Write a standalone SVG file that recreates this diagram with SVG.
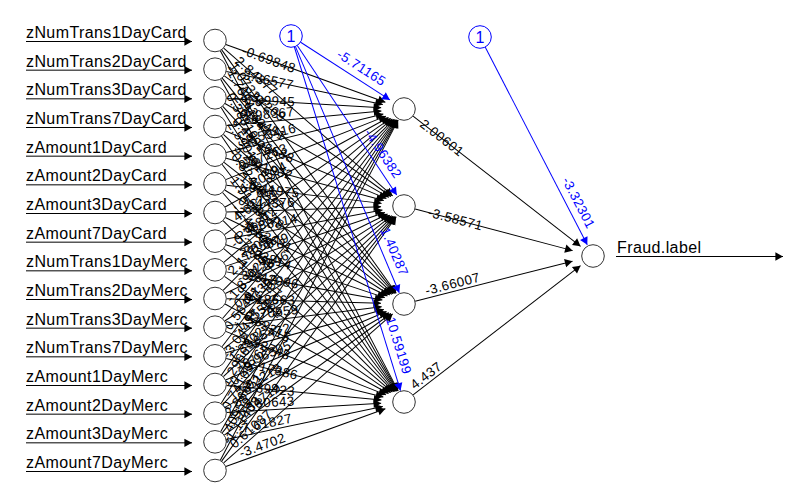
<svg xmlns="http://www.w3.org/2000/svg" width="808" height="499" viewBox="0 0 808 499">
<style>
text{font-family:"Liberation Sans",Arial,sans-serif}
.ln{stroke:#000;stroke-width:1;fill:none;marker-end:url(#ah)}
.bl{stroke:#00f;stroke-width:1;fill:none;marker-end:url(#ahb)}
.w{font-size:13.3px;letter-spacing:0.45px;fill:#000}
.wb{font-size:13.3px;letter-spacing:0.45px;fill:#00f;text-anchor:end}
.lab{font-size:16px;letter-spacing:0.4px;fill:#000}
.nd{fill:#fff;stroke:#333;stroke-width:1}
.bn{fill:#fff;stroke:#00f;stroke-width:1}
.one{font-size:16px;fill:#00f;text-anchor:middle}
</style>
<defs>
<marker id="ah" viewBox="-8 -5 9 10" refX="0" refY="0" markerWidth="9" markerHeight="10" markerUnits="userSpaceOnUse" orient="auto"><path d="M0,0 L-7.6,-4.2 L-7.6,4.2 Z" fill="#000"/></marker>
<marker id="ahb" viewBox="-8 -5 9 10" refX="0" refY="0" markerWidth="9" markerHeight="10" markerUnits="userSpaceOnUse" orient="auto"><path d="M0,0 L-7.6,-4.2 L-7.6,4.2 Z" fill="#00f"/></marker>
</defs>
<g id="connectors">
<g id="input-arrows">
<line class="ln" x1="26" y1="41.5" x2="192" y2="41.5"/>
<line class="ln" x1="26" y1="70.17" x2="192" y2="70.17"/>
<line class="ln" x1="26" y1="98.83" x2="192" y2="98.83"/>
<line class="ln" x1="26" y1="127.5" x2="192" y2="127.5"/>
<line class="ln" x1="26" y1="156.17" x2="192" y2="156.17"/>
<line class="ln" x1="26" y1="184.83" x2="192" y2="184.83"/>
<line class="ln" x1="26" y1="213.5" x2="192" y2="213.5"/>
<line class="ln" x1="26" y1="242.17" x2="192" y2="242.17"/>
<line class="ln" x1="26" y1="270.83" x2="192" y2="270.83"/>
<line class="ln" x1="26" y1="299.5" x2="192" y2="299.5"/>
<line class="ln" x1="26" y1="328.17" x2="192" y2="328.17"/>
<line class="ln" x1="26" y1="356.83" x2="192" y2="356.83"/>
<line class="ln" x1="26" y1="385.5" x2="192" y2="385.5"/>
<line class="ln" x1="26" y1="414.17" x2="192" y2="414.17"/>
<line class="ln" x1="26" y1="442.83" x2="192" y2="442.83"/>
<line class="ln" x1="26" y1="471.5" x2="192" y2="471.5"/>
</g>
<g id="to-h1">
<g transform="translate(215 40.5) rotate(19.93)"><line class="ln" x1="11.5" x2="181.22"/><text class="w" x="29" y="4">-0.69848</text></g>
<g transform="translate(215 69.17) rotate(11.9)"><line class="ln" x1="11.5" x2="171.49"/><text class="w" x="29" y="4">3.36577</text></g>
<g transform="translate(215 97.83) rotate(3.382)"><line class="ln" x1="11.5" x2="166.45"/><text class="w" x="29" y="4">8.09945</text></g>
<g transform="translate(215 126.5) rotate(-5.29)"><line class="ln" x1="11.5" x2="167.1"/><text class="w" x="29" y="-3">1.98367</text></g>
<g transform="translate(215 155.17) rotate(-13.73)"><line class="ln" x1="11.5" x2="173.29"/><text class="w" x="29" y="-3">-2.53416</text></g>
<g transform="translate(215 183.83) rotate(-21.6)"><line class="ln" x1="11.5" x2="183.89"/><text class="w" x="29" y="-3">0.87213</text></g>
<g transform="translate(215 212.5) rotate(-28.71)"><line class="ln" x1="11.5" x2="197.8"/><text class="w" x="29" y="-3">-1.20594</text></g>
<g transform="translate(215 241.17) rotate(-34.96)"><line class="ln" x1="11.5" x2="214.31"/><text class="w" x="29" y="-3">4.61238</text></g>
<g transform="translate(215 269.83) rotate(-40.4)"><line class="ln" x1="11.5" x2="232.87"/><text class="w" x="29" y="-3">-0.35872</text></g>
<g transform="translate(215 298.5) rotate(-45.07)"><line class="ln" x1="11.5" x2="253.11"/><text class="w" x="29" y="-3">2.17705</text></g>
<g transform="translate(215 327.17) rotate(-49.1)"><line class="ln" x1="11.5" x2="274.7"/><text class="w" x="29" y="-3">-1.83029</text></g>
<g transform="translate(215 355.83) rotate(-52.56)"><line class="ln" x1="11.5" x2="297.35"/><text class="w" x="29" y="-3">0.56481</text></g>
<g transform="translate(215 384.5) rotate(-55.56)"><line class="ln" x1="11.5" x2="320.92"/><text class="w" x="29" y="-3">-3.04417</text></g>
<g transform="translate(215 413.17) rotate(-58.15)"><line class="ln" x1="11.5" x2="345.17"/><text class="w" x="29" y="-3">1.29663</text></g>
<g transform="translate(215 441.83) rotate(-60.41)"><line class="ln" x1="11.5" x2="370.03"/><text class="w" x="29" y="-3">-0.74105</text></g>
<g transform="translate(215 470.5) rotate(-62.4)"><line class="ln" x1="11.5" x2="395.37"/><text class="w" x="29" y="-3">2.40958</text></g>
</g>
<g id="to-h2">
<g transform="translate(215 40.5) rotate(41.2)"><line class="ln" x1="11.5" x2="236.06"/><text class="w" x="29" y="4">2.84377</text></g>
<g transform="translate(215 69.17) rotate(35.9)"><line class="ln" x1="11.5" x2="217.19"/><text class="w" x="29" y="4">-1.57209</text></g>
<g transform="translate(215 97.83) rotate(29.78)"><line class="ln" x1="11.5" x2="200.32"/><text class="w" x="29" y="4">0.93451</text></g>
<g transform="translate(215 126.5) rotate(22.82)"><line class="ln" x1="11.5" x2="185.95"/><text class="w" x="29" y="4">-2.26688</text></g>
<g transform="translate(215 155.17) rotate(15.05)"><line class="ln" x1="11.5" x2="174.75"/><text class="w" x="29" y="4">3.71032</text></g>
<g transform="translate(215 183.83) rotate(6.69)"><line class="ln" x1="11.5" x2="167.75"/><text class="w" x="29" y="4">-0.41975</text></g>
<g transform="translate(215 212.5) rotate(-1.97)"><line class="ln" x1="11.5" x2="166.15"/><text class="w" x="29" y="-3">1.44376</text></g>
<g transform="translate(215 241.17) rotate(-10.541)"><line class="ln" x1="11.5" x2="170.31"/><text class="w" x="29" y="-3">-0.88214</text></g>
<g transform="translate(215 269.83) rotate(-18.66)"><line class="ln" x1="11.5" x2="179.37"/><text class="w" x="29" y="-3">2.05579</text></g>
<g transform="translate(215 298.5) rotate(-26.08)"><line class="ln" x1="11.5" x2="192.12"/><text class="w" x="29" y="-3">-3.12846</text></g>
<g transform="translate(215 327.17) rotate(-32.67)"><line class="ln" x1="11.5" x2="207.71"/><text class="w" x="29" y="-3">0.67392</text></g>
<g transform="translate(215 355.83) rotate(-38.41)"><line class="ln" x1="11.5" x2="225.53"/><text class="w" x="29" y="-3">-1.95513</text></g>
<g transform="translate(215 384.5) rotate(-43.37)"><line class="ln" x1="11.5" x2="245.17"/><text class="w" x="29" y="-3">1.38027</text></g>
<g transform="translate(215 413.17) rotate(-47.63)"><line class="ln" x1="11.5" x2="266.27"/><text class="w" x="29" y="-3">-0.29764</text></g>
<g transform="translate(215 441.83) rotate(-51.29)"><line class="ln" x1="11.5" x2="288.53"/><text class="w" x="29" y="-3">2.86651</text></g>
<g transform="translate(215 470.5) rotate(-54.46)"><line class="ln" x1="11.5" x2="311.77"/><text class="w" x="29" y="-3">-1.11408</text></g>
</g>
<g id="to-h3">
<g transform="translate(215 40.5) rotate(54.35)"><line class="ln" x1="11.5" x2="310.95"/><text class="w" x="29" y="4">1.07326</text></g>
<g transform="translate(215 69.17) rotate(51.17)"><line class="ln" x1="11.5" x2="287.75"/><text class="w" x="29" y="4">-2.91844</text></g>
<g transform="translate(215 97.83) rotate(47.48)"><line class="ln" x1="11.5" x2="265.51"/><text class="w" x="29" y="4">0.45917</text></g>
<g transform="translate(215 126.5) rotate(43.2)"><line class="ln" x1="11.5" x2="244.45"/><text class="w" x="29" y="4">3.25103</text></g>
<g transform="translate(215 155.17) rotate(38.22)"><line class="ln" x1="11.5" x2="224.88"/><text class="w" x="29" y="4">-1.66237</text></g>
<g transform="translate(215 183.83) rotate(32.45)"><line class="ln" x1="11.5" x2="207.12"/><text class="w" x="29" y="4">0.79548</text></g>
<g transform="translate(215 212.5) rotate(25.84)"><line class="ln" x1="11.5" x2="191.62"/><text class="w" x="29" y="4">-0.52681</text></g>
<g transform="translate(215 241.17) rotate(18.39)"><line class="ln" x1="11.5" x2="178.99"/><text class="w" x="29" y="4">2.33814</text></g>
<g transform="translate(215 269.83) rotate(10.248)"><line class="ln" x1="11.5" x2="170.08"/><text class="w" x="29" y="4">-1.42096</text></g>
<g transform="translate(215 298.5) rotate(1.667)"><line class="ln" x1="11.5" x2="166.1"/><text class="w" x="29" y="4">0.18663</text></g>
<g transform="translate(215 327.17) rotate(-6.989)"><line class="ln" x1="11.5" x2="167.9"/><text class="w" x="29" y="-3">-2.70559</text></g>
<g transform="translate(215 355.83) rotate(-15.33)"><line class="ln" x1="11.5" x2="175.07"/><text class="w" x="29" y="-3">1.85472</text></g>
<g transform="translate(215 384.5) rotate(-23.07)"><line class="ln" x1="11.5" x2="186.4"/><text class="w" x="29" y="-3">-0.96305</text></g>
<g transform="translate(215 413.17) rotate(-30.01)"><line class="ln" x1="11.5" x2="200.88"/><text class="w" x="29" y="-3">3.02218</text></g>
<g transform="translate(215 441.83) rotate(-36.1)"><line class="ln" x1="11.5" x2="217.82"/><text class="w" x="29" y="-3">-1.34719</text></g>
<g transform="translate(215 470.5) rotate(-41.38)"><line class="ln" x1="11.5" x2="236.75"/><text class="w" x="29" y="-3">0.61087</text></g>
</g>
<g id="to-h4">
<g transform="translate(215 40.5) rotate(62.4)"><line class="ln" x1="11.5" x2="395.37"/><text class="w" x="29" y="4">-1.76542</text></g>
<g transform="translate(215 69.17) rotate(60.41)"><line class="ln" x1="11.5" x2="370.03"/><text class="w" x="29" y="4">0.38819</text></g>
<g transform="translate(215 97.83) rotate(58.15)"><line class="ln" x1="11.5" x2="345.17"/><text class="w" x="29" y="4">2.59013</text></g>
<g transform="translate(215 126.5) rotate(55.56)"><line class="ln" x1="11.5" x2="320.92"/><text class="w" x="29" y="4">-0.82476</text></g>
<g transform="translate(215 155.17) rotate(52.56)"><line class="ln" x1="11.5" x2="297.35"/><text class="w" x="29" y="4">1.91634</text></g>
<g transform="translate(215 183.83) rotate(49.1)"><line class="ln" x1="11.5" x2="274.7"/><text class="w" x="29" y="4">-2.48105</text></g>
<g transform="translate(215 212.5) rotate(45.07)"><line class="ln" x1="11.5" x2="253.11"/><text class="w" x="29" y="4">0.71259</text></g>
<g transform="translate(215 241.17) rotate(40.4)"><line class="ln" x1="11.5" x2="232.87"/><text class="w" x="29" y="4">-1.05927</text></g>
<g transform="translate(215 269.83) rotate(34.96)"><line class="ln" x1="11.5" x2="214.31"/><text class="w" x="29" y="4">3.14682</text></g>
<g transform="translate(215 298.5) rotate(28.71)"><line class="ln" x1="11.5" x2="197.8"/><text class="w" x="29" y="4">-0.62315</text></g>
<g transform="translate(215 327.17) rotate(21.6)"><line class="ln" x1="11.5" x2="183.89"/><text class="w" x="29" y="4">1.52748</text></g>
<g transform="translate(215 355.83) rotate(13.73)"><line class="ln" x1="11.5" x2="173.29"/><text class="w" x="29" y="4">-2.17386</text></g>
<g transform="translate(215 384.5) rotate(5.29)"><line class="ln" x1="11.5" x2="167.1"/><text class="w" x="29" y="4">3.89423</text></g>
<g transform="translate(215 413.17) rotate(-3.382)"><line class="ln" x1="11.5" x2="166.45"/><text class="w" x="29" y="-3">3.80643</text></g>
<g transform="translate(215 441.83) rotate(-11.9)"><line class="ln" x1="11.5" x2="171.49"/><text class="w" x="29" y="-3">7.61827</text></g>
<g transform="translate(215 470.5) rotate(-19.93)"><line class="ln" x1="11.5" x2="181.22"/><text class="w" x="29" y="-3">-3.4702</text></g>
</g>
<g id="bias1-edges">
<g transform="translate(291 36) rotate(32.86)"><line class="bl" x1="11" x2="117.77"/><text class="wb" x="104" y="-7">-5.71165</text></g>
<g transform="translate(291 36) rotate(56.39)"><line class="bl" x1="11" x2="191.03"/><text class="wb" x="177" y="-7">-4.96382</text></g>
<g transform="translate(291 36) rotate(67.14)"><line class="bl" x1="11" x2="278.64"/><text class="wb" x="264.6" y="-7">1.40287</text></g>
<g transform="translate(291 36) rotate(72.84)"><line class="bl" x1="11" x2="371.16"/><text class="wb" x="357.2" y="-7">10.59199</text></g>
</g>
<g id="hidden-output-edges">
<g transform="translate(404 109) rotate(37.88)"><line class="ln" x1="11.5" x2="223.68"/><text class="w" x="22" y="4">2.00601</text></g>
<g transform="translate(404 206) rotate(14.82)"><line class="ln" x1="11.5" x2="174.47"/><text class="w" x="25" y="4">-3.58571</text></g>
<g transform="translate(404 304) rotate(-14.25)"><line class="ln" x1="11.5" x2="173.84"/><text class="w" x="24" y="-3">-3.66007</text></g>
<g transform="translate(404 402) rotate(-37.69)"><line class="ln" x1="11.5" x2="223.03"/><text class="w" x="16" y="-3">4.437</text></g>
<g transform="translate(480 37) rotate(62.7)"><line class="bl" x1="11" x2="233.9"/><text class="wb" x="220.5" y="-7">-3.32301</text></g>
</g>
<line class="ln" x1="616" y1="256.5" x2="783" y2="256.5"/>
</g>
<g id="in-zNumTrans1DayCard"><circle class="nd" cx="215" cy="40.5" r="11.3"/><text class="lab" x="26" y="38">zNumTrans1DayCard</text></g>
<g id="in-zNumTrans2DayCard"><circle class="nd" cx="215" cy="69.17" r="11.3"/><text class="lab" x="26" y="66.67">zNumTrans2DayCard</text></g>
<g id="in-zNumTrans3DayCard"><circle class="nd" cx="215" cy="97.83" r="11.3"/><text class="lab" x="26" y="95.33">zNumTrans3DayCard</text></g>
<g id="in-zNumTrans7DayCard"><circle class="nd" cx="215" cy="126.5" r="11.3"/><text class="lab" x="26" y="124">zNumTrans7DayCard</text></g>
<g id="in-zAmount1DayCard"><circle class="nd" cx="215" cy="155.17" r="11.3"/><text class="lab" x="26" y="152.67">zAmount1DayCard</text></g>
<g id="in-zAmount2DayCard"><circle class="nd" cx="215" cy="183.83" r="11.3"/><text class="lab" x="26" y="181.33">zAmount2DayCard</text></g>
<g id="in-zAmount3DayCard"><circle class="nd" cx="215" cy="212.5" r="11.3"/><text class="lab" x="26" y="210">zAmount3DayCard</text></g>
<g id="in-zAmount7DayCard"><circle class="nd" cx="215" cy="241.17" r="11.3"/><text class="lab" x="26" y="238.67">zAmount7DayCard</text></g>
<g id="in-zNumTrans1DayMerc"><circle class="nd" cx="215" cy="269.83" r="11.3"/><text class="lab" x="26" y="267.33">zNumTrans1DayMerc</text></g>
<g id="in-zNumTrans2DayMerc"><circle class="nd" cx="215" cy="298.5" r="11.3"/><text class="lab" x="26" y="296">zNumTrans2DayMerc</text></g>
<g id="in-zNumTrans3DayMerc"><circle class="nd" cx="215" cy="327.17" r="11.3"/><text class="lab" x="26" y="324.67">zNumTrans3DayMerc</text></g>
<g id="in-zNumTrans7DayMerc"><circle class="nd" cx="215" cy="355.83" r="11.3"/><text class="lab" x="26" y="353.33">zNumTrans7DayMerc</text></g>
<g id="in-zAmount1DayMerc"><circle class="nd" cx="215" cy="384.5" r="11.3"/><text class="lab" x="26" y="382">zAmount1DayMerc</text></g>
<g id="in-zAmount2DayMerc"><circle class="nd" cx="215" cy="413.17" r="11.3"/><text class="lab" x="26" y="410.67">zAmount2DayMerc</text></g>
<g id="in-zAmount3DayMerc"><circle class="nd" cx="215" cy="441.83" r="11.3"/><text class="lab" x="26" y="439.33">zAmount3DayMerc</text></g>
<g id="in-zAmount7DayMerc"><circle class="nd" cx="215" cy="470.5" r="11.3"/><text class="lab" x="26" y="468">zAmount7DayMerc</text></g>
<g id="bias-1"><circle class="bn" cx="291" cy="36" r="11.3"/><text class="one" x="291" y="41.7">1</text></g>
<g id="bias-2"><circle class="bn" cx="480" cy="37" r="11.3"/><text class="one" x="480" y="42.7">1</text></g>
<g id="hidden-1"><circle class="nd" cx="404" cy="109" r="11.3"/></g>
<g id="hidden-2"><circle class="nd" cx="404" cy="206" r="11.3"/></g>
<g id="hidden-3"><circle class="nd" cx="404" cy="304" r="11.3"/></g>
<g id="hidden-4"><circle class="nd" cx="404" cy="402" r="11.3"/></g>
<g id="output"><circle class="nd" cx="593" cy="256" r="11.3"/><text class="lab" x="617" y="253">Fraud.label</text></g>
</svg>
